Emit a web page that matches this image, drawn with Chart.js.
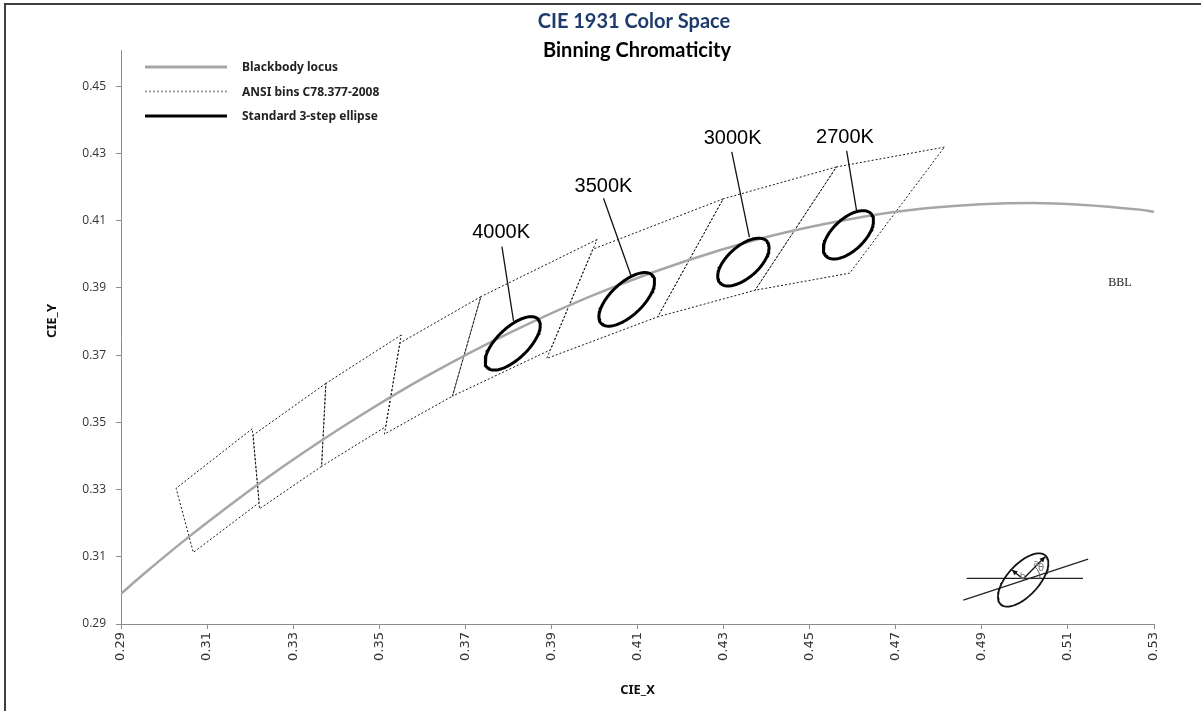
<!DOCTYPE html>
<html>
<head>
<meta charset="utf-8">
<script src="https://cdn.jsdelivr.net/npm/chart.js@4.4.1/dist/chart.umd.min.js"></script>
<style>
  html, body { margin: 0; padding: 0; background: #fff; }
  #wrap { position: relative; width: 1201px; height: 711px; }
  #frame { position: absolute; left: 4px; top: 3px; right: 0; bottom: 0;
           border-top: 2px solid #3f3f3f; border-left: 2px solid #3f3f3f; pointer-events: none; }
</style>
</head>
<body>
<div id="wrap">
  <canvas id="graphic" width="1201" height="711"></canvas>
  <div id="frame"></div>
</div>
<script>
// axis ticks
const xTicks = [0.29, 0.31, 0.33, 0.35, 0.37, 0.39, 0.41, 0.43, 0.45, 0.47, 0.49, 0.51, 0.53];
const yTicks = [0.29, 0.31, 0.33, 0.35, 0.37, 0.39, 0.41, 0.43, 0.45];

// blackbody (Planckian) locus
const locusX = [0.2900, 0.2952, 0.3064, 0.3135, 0.3221, 0.3325, 0.3451, 0.3608, 0.3805, 0.4053, 0.4369, 0.4599, 0.4770, 0.5018, 0.5267, 0.5300];
const locusY = [0.2990, 0.3048, 0.3166, 0.3236, 0.3318, 0.3411, 0.3516, 0.3636, 0.3768, 0.3907, 0.4041, 0.4106, 0.4137, 0.4153, 0.4133, 0.4127];

// ANSI C78.377-2008 quadrangles (corners, closed)
const binNames = ['6500K', '5700K', '5000K', '4500K', '4000K', '3500K', '3000K', '2700K'];
const binX = [
  [0.3205, 0.3028, 0.3068, 0.3221, 0.3205],
  [0.3376, 0.3207, 0.3222, 0.3366, 0.3376],
  [0.3551, 0.3376, 0.3366, 0.3515, 0.3551],
  [0.3736, 0.3548, 0.3512, 0.3670, 0.3736],
  [0.4006, 0.3736, 0.3670, 0.3898, 0.4006],
  [0.4299, 0.3996, 0.3889, 0.4147, 0.4299],
  [0.4562, 0.4299, 0.4147, 0.4373, 0.4562],
  [0.4813, 0.4562, 0.4373, 0.4593, 0.4813]
];
const binY = [
  [0.3481, 0.3304, 0.3113, 0.3261, 0.3481],
  [0.3616, 0.3462, 0.3243, 0.3369, 0.3616],
  [0.3760, 0.3616, 0.3369, 0.3487, 0.3760],
  [0.3874, 0.3736, 0.3465, 0.3578, 0.3874],
  [0.4044, 0.3874, 0.3578, 0.3716, 0.4044],
  [0.4165, 0.4015, 0.3690, 0.3814, 0.4165],
  [0.4260, 0.4165, 0.3814, 0.3893, 0.4260],
  [0.4319, 0.4260, 0.3893, 0.3944, 0.4319]
];

// 3-step ellipses: centre, semi axes, tilt (deg)
const ellipseNames = ['4000K', '3500K', '3000K', '2700K'];
const ellipseX = [0.3810, 0.4075, 0.4346, 0.4590];
const ellipseY = [0.3735, 0.3866, 0.3977, 0.4058];
const ellipseA = [0.00939, 0.00939, 0.00834, 0.00830];
const ellipseB = [0.00402, 0.00417, 0.00408, 0.00411];
const ellipseTheta = [54.0, 54.0, 53.2, 55.0];

// CCT labels and leader lines
const labelX = [0.3783, 0.4021, 0.4321, 0.4582];
const labelY = [0.4064, 0.4202, 0.4345, 0.4349];
const leaderX = [[0.3785, 0.3812], [0.4021, 0.4085], [0.4319, 0.4360], [0.4586, 0.4609]];
const leaderY = [[0.4023, 0.3802], [0.4167, 0.3936], [0.4305, 0.4051], [0.4308, 0.4130]];

const bblText = 'BBL';
const bblX = 0.5221, bblY = 0.3915;

// small key drawing (ellipse parameters a, b, theta)
const keyEllipseX = 0.4996, keyEllipseY = 0.3031, keyA = 0.0090, keyB = 0.0040, keyTheta = 58;
const keyLineX = [[0.4865, 0.5135], [0.4857, 0.5147]];
const keyLineY = [[0.3036, 0.3036], [0.2971, 0.3093]];
const keyArrowFrom = [0.4996, 0.3034];
const keyArrowX = [0.5047, 0.4970];
const keyArrowY = [0.3100, 0.3061];

const legendLabels = ['Blackbody locus', 'ANSI bins C78.377-2008', 'Standard 3-step ellipse'];

function ellipsePoints(cx, cy, a, b, thetaDeg) {
  const th = thetaDeg * Math.PI / 180;
  const pts = [];
  for (let d = 0; d <= 360; d += 4) {
    const t = d * Math.PI / 180;
    pts.push({
      x: cx + a * Math.cos(th) * Math.cos(t) - b * Math.sin(th) * Math.sin(t),
      y: cy + a * Math.sin(th) * Math.cos(t) + b * Math.cos(th) * Math.sin(t)
    });
  }
  return pts;
}
const pairs = (xs, ys) => xs.map((x, i) => ({ x: x, y: ys[i] }));

const datasets = [];
datasets.push({
  label: legendLabels[0], data: pairs(locusX, locusY), borderColor: '#a6a6a6', borderWidth: 2.5,
  cubicInterpolationMode: 'monotone', order: 3
});
binX.forEach((xs, i) => datasets.push({
  label: binNames[i], data: pairs(xs, binY[i]), borderColor: '#1a1a1a', borderWidth: 1,
  borderDash: [2, 2], order: 4
}));
ellipseX.forEach((cx, i) => datasets.push({
  label: ellipseNames[i], data: ellipsePoints(cx, ellipseY[i], ellipseA[i], ellipseB[i], ellipseTheta[i]),
  borderColor: '#000', borderWidth: 3, borderJoinStyle: 'round', order: 0
}));
leaderX.forEach((xs, i) => datasets.push({
  label: 'leader ' + ellipseNames[i], data: pairs(xs, leaderY[i]), borderColor: '#111', borderWidth: 1.3, order: 1
}));
datasets.push({
  label: 'key ellipse', data: ellipsePoints(keyEllipseX, keyEllipseY, keyA, keyB, keyTheta),
  borderColor: '#111', borderWidth: 1.8, order: 1
});
keyLineX.forEach((xs, i) => datasets.push({
  label: 'key line ' + i, data: pairs(xs, keyLineY[i]), borderColor: '#222', borderWidth: 1.2, order: 2
}));
datasets.forEach(d => { d.showLine = true; d.pointRadius = 0; d.fill = false; if (d.tension === undefined) d.tension = 0; });

const overlay = {
  id: 'overlay',
  afterDatasetsDraw(chart) {
    const ctx = chart.ctx, xs = chart.scales.x, ys = chart.scales.y;
    ctx.save();
    // CCT labels
    ctx.fillStyle = '#000';
    ctx.font = '20px "Liberation Sans", Arial, sans-serif';
    ctx.textAlign = 'center';
    ctx.textBaseline = 'middle';
    ellipseNames.forEach((t, i) => ctx.fillText(t, xs.getPixelForValue(labelX[i]), ys.getPixelForValue(labelY[i])));
    // BBL
    ctx.font = '12px "Liberation Serif", "DejaVu Serif", serif';
    ctx.fillStyle = '#222';
    ctx.fillText(bblText, xs.getPixelForValue(bblX), ys.getPixelForValue(bblY));
    // key arrows
    const ox = xs.getPixelForValue(keyArrowFrom[0]), oy = ys.getPixelForValue(keyArrowFrom[1]);
    ctx.strokeStyle = '#111';
    ctx.fillStyle = '#111';
    ctx.lineWidth = 1.3;
    keyArrowX.forEach((vx, i) => {
      const tx = xs.getPixelForValue(vx), ty = ys.getPixelForValue(keyArrowY[i]);
      const ang = Math.atan2(ty - oy, tx - ox);
      ctx.beginPath(); ctx.moveTo(ox, oy); ctx.lineTo(tx, ty); ctx.stroke();
      ctx.beginPath();
      ctx.moveTo(tx, ty);
      ctx.lineTo(tx - 6 * Math.cos(ang - 0.45), ty - 6 * Math.sin(ang - 0.45));
      ctx.lineTo(tx - 6 * Math.cos(ang + 0.45), ty - 6 * Math.sin(ang + 0.45));
      ctx.closePath(); ctx.fill();
    });
    // theta arc
    const ax = xs.getPixelForValue(keyArrowX[0]), ay = ys.getPixelForValue(keyArrowY[0]);
    const angA = Math.atan2(ay - oy, ax - ox);
    ctx.lineWidth = 1;
    ctx.strokeStyle = '#555';
    ctx.beginPath(); ctx.arc(ox, oy, 17, angA, 0); ctx.stroke();
    ctx.font = '9px "DejaVu Sans", sans-serif';
    ctx.fillStyle = '#777';
    ctx.fillText('a', (ox + ax) / 2 + 2, (oy + ay) / 2 - 4);
    const bx = xs.getPixelForValue(keyArrowX[1]), by = ys.getPixelForValue(keyArrowY[1]);
    ctx.fillText('b', (ox + bx) / 2 + 5, (oy + by) / 2 + 2);
    ctx.font = '10px "DejaVu Sans", sans-serif';
    ctx.fillText('θ', ox + 18, oy - 11);
    ctx.restore();
  },
  afterDraw(chart) {
    const ctx = chart.ctx;
    ctx.save();
    ctx.textAlign = 'center';
    ctx.textBaseline = 'middle';
    ctx.font = 'bold 20px Lato, "Noto Sans", sans-serif';
    ctx.fillStyle = '#1f3b6b';
    ctx.fillText('CIE 1931 Color Space', 634, 22);
    ctx.fillStyle = '#000';
    ctx.fillText('Binning Chromaticity', 637, 51);
    // y axis title
    ctx.save();
    ctx.translate(52, 321);
    ctx.rotate(-Math.PI / 2);
    ctx.font = 'bold 13px "Noto Sans", sans-serif';
    ctx.fillStyle = '#111';
    ctx.fillText('CIE_Y', 0, 0);
    ctx.restore();
    // legend
    const styles = [
      { color: '#a6a6a6', width: 3, dash: [] },
      { color: '#a0a0a0', width: 2, dash: [2, 2] },
      { color: '#000', width: 3, dash: [] }
    ];
    ctx.textAlign = 'left';
    ctx.font = 'bold 12px "Noto Sans", sans-serif';
    legendLabels.forEach((t, i) => {
      const y = 67 + i * 24.5;
      ctx.strokeStyle = styles[i].color;
      ctx.lineWidth = styles[i].width;
      ctx.setLineDash(styles[i].dash);
      ctx.beginPath(); ctx.moveTo(145, y); ctx.lineTo(227, y); ctx.stroke();
      ctx.fillStyle = '#222';
      ctx.fillText(t, 242, y + 1);
    });
    ctx.restore();
  }
};

const axisColor = '#8c8c8c';
const ctx = document.getElementById('graphic').getContext('2d');
const myChart = new Chart(ctx, {
  type: 'scatter',
  data: { datasets: datasets },
  options: {
    responsive: false,
    animation: false,
    layout: { padding: { top: 50, right: 47, bottom: 0, left: 0 } },
    plugins: { legend: { display: false }, tooltip: { enabled: false } },
    scales: {
      x: {
        type: 'linear', min: 0.29, max: 0.53,
        afterBuildTicks: s => { s.ticks = xTicks.map(v => ({ value: v })); },
        afterFit: s => { s.height = 87; },
        ticks: {
          minRotation: 90, maxRotation: 90, padding: 3, color: '#333',
          font: { family: 'DejaVu Sans', size: 13 },
          callback: v => v.toFixed(2)
        },
        grid: { drawOnChartArea: false, drawTicks: true, tickLength: 5, color: axisColor },
        border: { display: true, color: axisColor, width: 1 },
        title: {
          display: true, text: 'CIE_X', color: '#111',
          font: { family: 'Noto Sans', size: 13, weight: 'bold' },
          padding: { top: 0, bottom: 13 }
        }
      },
      y: {
        type: 'linear', min: 0.29, max: 0.4608,
        afterBuildTicks: s => { s.ticks = yTicks.map(v => ({ value: v })); },
        afterFit: s => { s.width = 121; },
        ticks: {
          padding: 10, color: '#333',
          font: { family: 'Open Sans', size: 12 },
          callback: v => v.toFixed(2)
        },
        grid: { drawOnChartArea: false, drawTicks: true, tickLength: 5, color: axisColor },
        border: { display: true, color: axisColor, width: 1 }
      }
    }
  },
  plugins: [overlay]
});
</script>
</body>
</html>
